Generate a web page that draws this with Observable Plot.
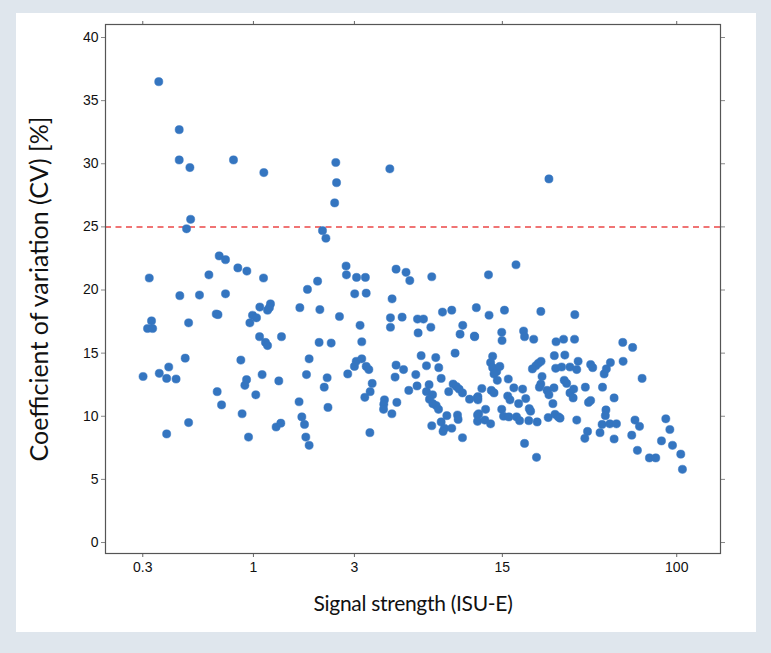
<!DOCTYPE html>
<html>
<head>
<meta charset="utf-8">
<script src="https://cdn.jsdelivr.net/npm/d3@7"></script>
<script src="https://cdn.jsdelivr.net/npm/@observablehq/plot@0.6"></script>
<style>
  html, body { margin: 0; padding: 0; background: #dfe6ed; }
  #page { position: relative; width: 771px; height: 653px; overflow: hidden; }
  #card { position: absolute; left: 16px; top: 13px; width: 740px; height: 619px; background: #ffffff; }
  #chart svg { position: absolute; left: 0; top: 0; }
  g[aria-label="x-axis label"] text {
    font-family: Lato, "Open Sans", sans-serif; font-size: 21px; letter-spacing: -0.3px; fill: #111;
  }
  g[aria-label="y-axis label"] text {
    font-family: Lato, "Open Sans", sans-serif; font-size: 25px; fill: #111;
  }
  g[aria-label$="tick label"] text {
    font-family: "Liberation Sans Narrow", "Arial Narrow", "Liberation Sans", sans-serif; font-size: 14px; fill: #111;
  }
</style>
</head>
<body>
<div id="page">
  <div id="card"></div>
  <div id="chart"></div>
</div>
<script>
// Signal strength (ISU-E), x values
const signal = [
  0.357,0.446,0.446,0.501,0.805,1.12,0.505,0.483,0.689,0.738,
  2.45,2.47,2.42,4.41,2.12,2.20,2.74,2.75,3.07,3.38,
  4.72,5.26,5.48,6.96,3.01,3.41,4.52,24.9,12.9,17.4,
  11.3,15.35,22.8,
  0.844,0.931,1.116,0.322,0.616,0.449,0.556,0.738,1.80,2.01,
  1.657,2.06,1.204,1.166,1.19,1.072,0.990,1.034,0.962,0.667,
  0.680,0.494,0.330,0.316,0.334,1.069,1.140,1.166,1.357,2.043,
  1.833,1.781,0.872,0.476,0.398,0.359,0.301,0.389,0.431,0.928,
  0.911,1.099,1.318,0.674,0.707,1.026,1.643,1.693,1.743,1.768,
  1.833,0.884,0.494,0.389,0.948,1.280,1.347,
  2.55,3.19,3.25,2.33,4.44,4.44,5.04,5.96,6.36,6.00,
  6.89,7.82,8.65,9.75,9.47,11.1,2.23,2.16,2.79,3.00,
  3.06,3.25,3.41,3.51,3.64,3.56,3.36,2.25,3.55,4.16,
  4.13,4.12,4.51,4.76,4.67,4.72,5.12,5.42,5.85,5.93,
  6.20,6.57,7.27,7.51,7.71,6.76,6.57,7.02,6.79,7.04,
  7.30,7.49,8.37,8.97,8.78,9.10,9.37,9.72,10.5,11.4,
  8.20,9.21,9.27,7.71,7.99,7.87,8.65,6.96,9.72,11.45,
  11.45,
  12.98,33.0,11.07,14.9,14.95,18.9,19.1,21.1,26.9,29.2,
  32.9,55.6,61.9,68.6,13.5,13.2,13.5,14.1,14.6,13.7,
  14.2,16.0,12.0,13.3,13.7,11.5,11.5,11.6,12.5,12.4,
  13.2,14.9,15.2,16.1,15.9,16.3,17.0,17.9,17.5,18.1,
  18.7,19.35,19.1,20.1,20.4,20.0,21.9,21.75,20.8,21.6,
  22.2,22.85,23.1,22.8,22.45,24.7,24.4,24.9,26.0,26.3,
  26.6,27.6,28.1,26.4,29.6,26.8,28.6,31.3,29.4,30.2,
  31.3,32.6,32.4,33.7,34.2,33.7,37.0,37.9,36.8,39.2,
  40.1,38.3,39.2,43.4,44.4,44.6,45.4,46.5,48.6,46.3,
  46.0,48.3,51.9,50.6,50.6,55.8,61.3,63.5,66.7,65.2,
  74.3,79.6,84.7,88.8,92.8,95.5,104.5,106.4
];
// Coefficient of variation (CV) [%], y values
const cv = [
  36.5,32.7,30.3,29.7,30.3,29.3,25.6,24.85,22.7,22.4,
  30.1,28.5,26.9,29.6,24.7,24.1,21.9,21.2,21.0,21.0,
  21.65,21.4,20.75,21.05,19.7,19.75,19.3,28.8,21.2,22.0,
  18.6,18.4,18.3,
  21.75,21.5,20.95,20.95,21.2,19.55,19.6,19.7,20.05,20.7,
  18.6,18.45,18.9,18.4,18.6,18.65,18.0,17.8,17.4,18.1,
  18.05,17.4,17.55,16.95,16.95,16.3,15.85,15.6,16.3,15.85,
  14.55,13.3,14.45,14.6,13.9,13.4,13.15,13.0,12.95,12.9,
  12.45,13.3,12.8,11.95,10.9,11.7,11.15,9.95,9.35,8.35,
  7.7,10.2,9.5,8.6,8.35,9.15,9.45,
  17.9,17.2,15.9,15.8,17.8,17.05,17.85,17.7,17.7,16.6,
  17.05,18.25,18.4,17.2,16.5,16.3,13.05,12.3,13.35,13.95,
  14.35,14.55,13.95,13.7,12.6,11.95,11.5,10.7,8.7,11.3,
  10.95,10.55,10.2,11.1,13.1,14.05,13.7,12.05,13.3,12.4,
  14.8,14.0,14.65,13.85,13.0,12.5,11.95,11.7,11.35,11.0,
  10.85,10.55,11.95,15.0,12.55,12.35,12.15,11.85,11.35,11.45,
  10.05,10.1,9.75,9.55,9.05,8.8,9.05,9.25,8.3,10.1,
  9.6,
  18.0,18.05,16.35,16.65,16.0,16.75,16.3,16.1,15.9,16.1,
  16.1,15.85,15.45,13.0,14.75,14.25,13.85,13.55,13.95,13.35,
  12.85,12.95,12.2,12.05,11.85,11.55,11.3,10.2,10.55,9.7,
  9.4,10.55,10.0,9.95,11.6,11.3,12.25,11.0,9.95,9.65,
  12.15,11.4,7.85,10.6,10.4,9.65,9.55,6.75,13.75,14.0,
  14.2,14.35,13.15,12.55,12.3,9.9,12.05,11.7,11.0,12.25,
  10.15,9.95,9.85,14.8,14.85,13.8,13.9,13.9,12.85,12.6,
  11.85,12.15,11.45,13.7,14.35,9.7,12.3,8.8,8.25,14.1,
  13.85,11.1,11.25,8.7,9.35,12.3,13.35,13.75,14.25,10.5,
  10.05,9.4,9.4,11.45,8.2,14.35,8.5,9.7,9.2,7.3,
  6.7,6.7,8.05,9.8,8.95,7.7,7.0,5.8
];
const xTicks = [0.3, 1, 3, 15, 100];
const xTickLabels = ["0.3", "1", "3", "15", "100"];
const yTicks = [0, 5, 10, 15, 20, 25, 30, 35, 40];
const threshold = [25];

const points = signal.map((s, i) => ({signal: s, cv: cv[i]}));

const chart = Plot.plot({
  width: 771,
  height: 653,
  marginLeft: 105,
  marginRight: 51,
  marginTop: 24,
  marginBottom: 100,
  style: {background: "transparent", overflow: "visible"},
  x: {type: "log", domain: [0.2, 161]},
  y: {domain: [-0.87, 41.03]},
  marks: [
    Plot.ruleY(threshold, {stroke: "#f07474", strokeWidth: 2, strokeDasharray: "6,4.5"}),
    Plot.dot(points, {x: "signal", y: "cv", r: 4.1, fill: "#3475c0", stroke: "#3475c0", strokeWidth: 0.5}),
    Plot.axisX({anchor: "bottom", ticks: xTicks, tickFormat: (d) => xTickLabels[xTicks.indexOf(d)], tickSize: 4, tickPadding: 5, stroke: "#666",
      label: "Signal strength (ISU-E)", labelAnchor: "center", labelArrow: "none", labelOffset: 57}),
    Plot.axisX({anchor: "top", ticks: xTicks, tickFormat: () => "", tickSize: 4, stroke: "#666", label: null}),
    Plot.axisY({anchor: "left", ticks: yTicks, tickSize: 4, tickPadding: 3, stroke: "#888",
      label: "Coefficient of variation (CV) [%]", labelAnchor: "center", labelArrow: "none", labelOffset: 75}),
    Plot.axisY({anchor: "right", ticks: yTicks, tickFormat: () => "", tickSize: 4, stroke: "#888", label: null}),
    Plot.frame({stroke: "#555", strokeWidth: 1.2})
  ]
});
document.getElementById("chart").appendChild(chart);
</script>
</body>
</html>
